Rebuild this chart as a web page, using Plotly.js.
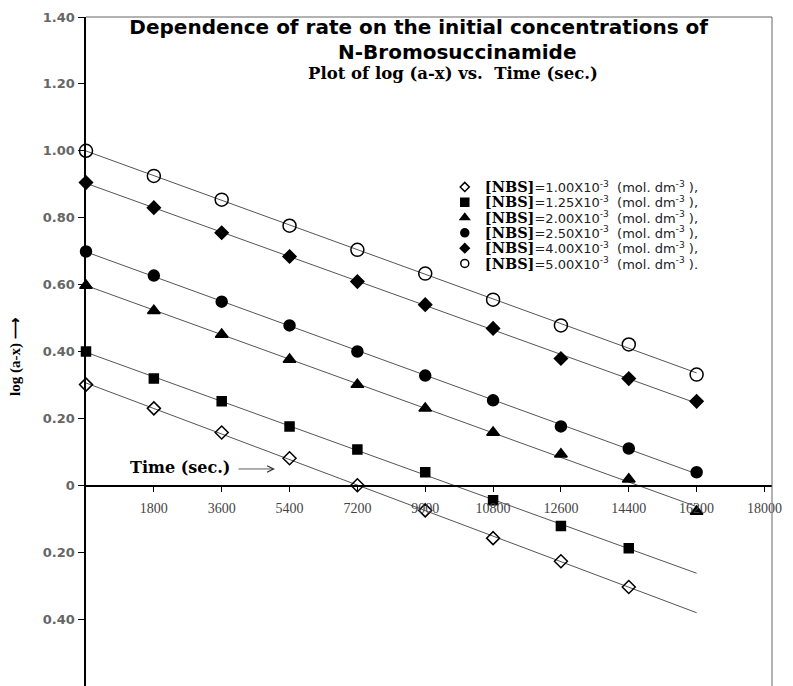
<!DOCTYPE html>
<html><head><meta charset="utf-8">
<script src="https://cdn.plot.ly/plotly-3.0.1.min.js"></script>
<style>body{margin:0;background:#fff}#chart{width:793px;height:686px}</style>
</head><body><div id="chart"></div>
<script>
// Time (sec.)
const time = [0, 1800, 3600, 5400, 7200, 9000, 10800, 12600, 14400, 16200];
// log (a-x) for each [NBS] (mol dm^-3)
const nbs100 = [0.301, 0.230, 0.158, 0.081, 0.000, -0.075, -0.158, -0.227, -0.304];
const nbs125 = [0.400, 0.319, 0.251, 0.176, 0.107, 0.039, -0.045, -0.122, -0.188];
const nbs200 = [0.597, 0.522, 0.451, 0.376, 0.301, 0.230, 0.158, 0.093, 0.018, -0.078];
const nbs250 = [0.699, 0.627, 0.549, 0.478, 0.400, 0.328, 0.254, 0.176, 0.110, 0.039];
const nbs400 = [0.905, 0.830, 0.755, 0.684, 0.609, 0.540, 0.469, 0.379, 0.319, 0.251];
const nbs500 = [1.000, 0.925, 0.854, 0.776, 0.704, 0.633, 0.555, 0.478, 0.421, 0.331];
const concLabels = ['1.00', '1.25', '2.00', '2.50', '4.00', '5.00'];
const xTickVals = [1800, 3600, 5400, 7200, 9000, 10800, 12600, 14400, 16200, 18000];
const xTickText = ['1800', '3600', '5400', '7200', '9000', '10800', '12600', '14400', '16200', '18000'];
const yTickVals = [-0.4, -0.2, 0, 0.2, 0.4, 0.6, 0.8, 1.0, 1.2, 1.4];
const yTickText = ['0.40', '0.20', '0', '0.20', '0.40', '0.60', '0.80', '1.00', '1.20', '1.40'];

const seriesData = [nbs100, nbs125, nbs200, nbs250, nbs400, nbs500];
const symbols = ['diamond-open', 'square', 'triangle-up', 'circle', 'diamond', 'circle-open'];
const sizes = [10, 9, 11, 11, 10, 13];
const legendSizes = [7, 8, 8, 8, 7, 8];

function fit(xs, ys) {
  const n = ys.length;
  let sx = 0, sy = 0, sxx = 0, sxy = 0;
  for (let i = 0; i < n; i++) { sx += xs[i]; sy += ys[i]; sxx += xs[i] * xs[i]; sxy += xs[i] * ys[i]; }
  const m = (n * sxy - sx * sy) / (n * sxx - sx * sx);
  const b = (sy - m * sx) / n;
  return [m, b];
}

const tMax = Math.max(...time);
const traces = [];
// fitted lines
seriesData.forEach((ys) => {
  const xs = time.slice(0, ys.length);
  const [m, b] = fit(xs, ys);
  traces.push({
    x: [0, tMax], y: [b, b + m * tMax], mode: 'lines', showlegend: false,
    line: { color: '#555', width: 1 }, hoverinfo: 'skip', cliponaxis: false
  });
});
// data markers
seriesData.forEach((ys, i) => {
  traces.push({
    x: time.slice(0, ys.length), y: ys, mode: 'markers', cliponaxis: false, showlegend: false,
    marker: { symbol: symbols[i], size: sizes[i], color: '#000', line: { color: '#000', width: 1.5 } }
  });
});
// legend entries (one legend per row)
const legendKeys = ['legend', 'legend2', 'legend3', 'legend4', 'legend5', 'legend6'];
seriesData.forEach((ys, i) => {
  const end = i === seriesData.length - 1 ? ' ).' : ' ),';
  traces.push({
    x: [null], y: [null], mode: 'markers', legend: legendKeys[i], showlegend: true,
    name: "<span style='font-family:DejaVu Serif;font-weight:bold;font-size:14.5px;color:#000'>[NBS]</span>=" + concLabels[i] +
      "X10<sup>-3</sup>  (mol. dm<sup>-3</sup>" + end,
    marker: { symbol: symbols[i], size: legendSizes[i], color: '#000', line: { color: '#000', width: 1.5 } }
  });
});

const legendTopPx = 187, legendStepPx = 15.3, plotTopPx = 17, plotHeightPx = 669;
const layout = {
  width: 793, height: 686,
  margin: { l: 86, r: 21, t: 17, b: 0 },
  paper_bgcolor: '#fff', plot_bgcolor: '#fff',
  title: {
    text: '<b>Dependence of rate on the initial concentrations of</b>',
    font: { family: 'DejaVu Sans', size: 20, color: '#000' },
    x: 0.528, xref: 'container', xanchor: 'center', y: 0.960, yref: 'container', yanchor: 'middle'
  },
  xaxis: {
    range: [0, 18200], anchor: 'free', position: 0.3,
    showline: true, linecolor: '#000', linewidth: 1.5,
    ticks: 'outside', ticklen: 5, tickcolor: '#000',
    tickvals: xTickVals, ticktext: xTickText, ticklabelstandoff: 4,
    tickfont: { family: 'Liberation Serif', size: 14, color: '#444' },
    showgrid: false, zeroline: false
  },
  yaxis: {
    range: [-0.6, 1.4],
    showline: true, linecolor: '#000', linewidth: 2.5,
    ticks: 'outside', ticklen: 6, tickcolor: '#000',
    tickvals: yTickVals, ticktext: yTickText,
    tickfont: { family: 'DejaVu Sans', size: 13, color: '#666', weight: 'bold' },
    showgrid: false, zeroline: false
  },
  shapes: [
    { type: 'line', xref: 'paper', yref: 'paper', x0: 0, x1: 1, y0: 1, y1: 1, line: { color: '#666', width: 1 } },
    { type: 'line', xref: 'paper', yref: 'paper', x0: 1, x1: 1, y0: 0, y1: 1, line: { color: '#666', width: 1 } }
  ],
  annotations: [
    { text: '<b>N-Bromosuccinamide</b>', xref: 'paper', yref: 'paper', x: 0.542, y: 0.948, xanchor: 'center', yanchor: 'middle',
      showarrow: false, font: { family: 'DejaVu Sans', size: 20, color: '#000' } },
    { text: '<b>Plot of log (a-x) vs.  Time (sec.)</b>', xref: 'paper', yref: 'paper', x: 0.535, y: 0.915, xanchor: 'center', yanchor: 'middle',
      showarrow: false, font: { family: 'DejaVu Serif', size: 16.5, color: '#000' } },
    { text: '<b>Time (sec.)</b>', xref: 'paper', yref: 'paper', x: 0.061, y: 0.326, xanchor: 'left', yanchor: 'middle',
      showarrow: false, font: { family: 'DejaVu Serif', size: 16, color: '#000' } },
    { text: '', xref: 'paper', yref: 'paper', x: 0.2755, y: 0.3244, showarrow: true, ax: -38, ay: 0,
      arrowhead: 5, arrowsize: 1.6, arrowwidth: 0.8, arrowcolor: '#333' },
    { text: '<b>log (a-x) ⟶</b>', xref: 'paper', yref: 'paper', x: -0.102, y: 0.492, textangle: -90,
      xanchor: 'center', yanchor: 'middle', showarrow: false,
      font: { family: 'Liberation Serif', size: 15, color: '#000' } }
  ]
};
legendKeys.forEach((k, i) => {
  layout[k] = {
    x: 0.523, xanchor: 'left', yanchor: 'middle',
    y: 1 - (legendTopPx + i * legendStepPx - plotTopPx) / plotHeightPx,
    font: { family: 'DejaVu Sans', size: 13, color: '#222' },
    bgcolor: 'rgba(0,0,0,0)', borderwidth: 0
  };
});

Plotly.newPlot('chart', traces, layout, { staticPlot: true, displayModeBar: false });
</script></body></html>
